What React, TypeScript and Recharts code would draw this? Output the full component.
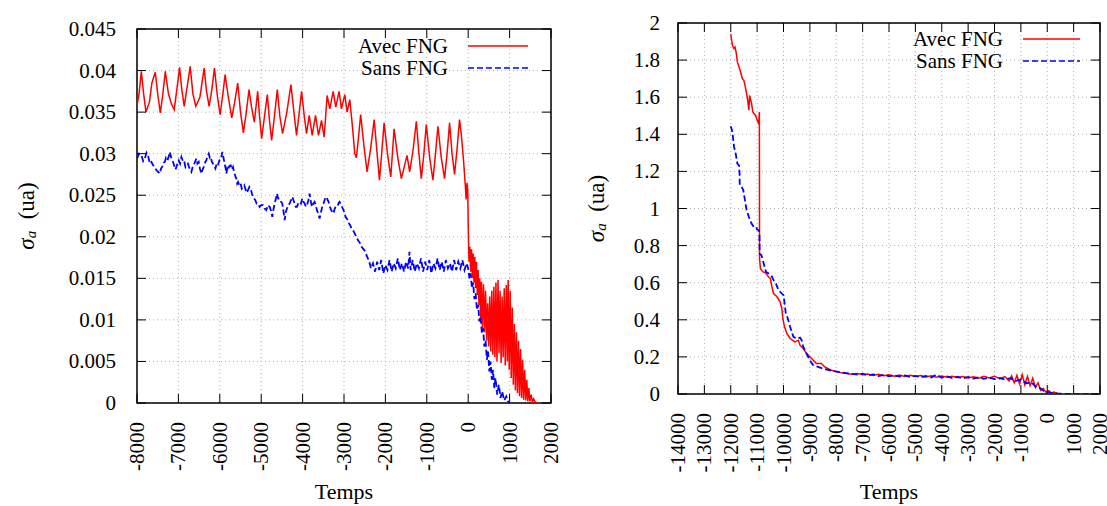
import React from 'react'
import { LineChart, Line, XAxis, YAxis, CartesianGrid, ReferenceArea, Legend } from 'recharts'

type Pt = [number, number]

const FONT = "'Liberation Serif', 'Times New Roman', serif"
const RED = '#ff0000'
const BLUE = '#0000ff'
const BLUE_DASH = '6 3'

const seriesNames = ['Avec FNG', 'Sans FNG']

// axis ticks
const leftXTicks = [-8000, -7000, -6000, -5000, -4000, -3000, -2000, -1000, 0, 1000, 2000]
const leftYTicks = [0, 0.005, 0.01, 0.015, 0.02, 0.025, 0.03, 0.035, 0.04, 0.045]
const rightXTicks = [
  -14000, -13000, -12000, -11000, -10000, -9000, -8000, -7000, -6000, -5000, -4000, -3000, -2000,
  -1000, 0, 1000, 2000,
]
const rightYTicks = [0, 0.2, 0.4, 0.6, 0.8, 1, 1.2, 1.4, 1.6, 1.8, 2]

// left panel, Avec FNG (time, sigma_a)
const avecLeft: Pt[] = [
  [-8000, 0.0358], [-7950, 0.0372], [-7896, 0.0399], [-7840, 0.0372], [-7783, 0.035], [-7700, 0.0362],
  [-7640, 0.0385], [-7558, 0.0398], [-7500, 0.0372], [-7438, 0.0349], [-7380, 0.037], [-7317, 0.0399],
  [-7240, 0.0372], [-7170, 0.036], [-7101, 0.0353], [-7030, 0.038], [-6972, 0.0404], [-6920, 0.0378],
  [-6860, 0.0357], [-6790, 0.038], [-6715, 0.0405], [-6650, 0.0372], [-6579, 0.0357], [-6480, 0.0368],
  [-6378, 0.0403], [-6320, 0.0375], [-6258, 0.0357], [-6190, 0.0378], [-6129, 0.0403], [-6060, 0.037],
  [-5993, 0.0347], [-5930, 0.037], [-5872, 0.0395], [-5800, 0.037], [-5711, 0.0343], [-5640, 0.0362],
  [-5567, 0.0385], [-5500, 0.035], [-5430, 0.0325], [-5360, 0.035], [-5294, 0.0377], [-5230, 0.0355],
  [-5166, 0.0338], [-5085, 0.0375], [-5040, 0.0345], [-4989, 0.0318], [-4920, 0.0345], [-4852, 0.0371],
  [-4800, 0.034], [-4748, 0.0316], [-4680, 0.0345], [-4611, 0.0377], [-4550, 0.0345], [-4483, 0.0324],
  [-4380, 0.035], [-4282, 0.0383], [-4210, 0.035], [-4146, 0.0322], [-4080, 0.035], [-4025, 0.0375],
  [-3960, 0.0345], [-3905, 0.0324], [-3840, 0.0346], [-3768, 0.0322], [-3688, 0.0346], [-3616, 0.0322],
  [-3543, 0.034], [-3479, 0.032], [-3407, 0.037], [-3343, 0.0354], [-3262, 0.0375], [-3198, 0.0356],
  [-3118, 0.0375], [-3062, 0.0354], [-2981, 0.0371], [-2925, 0.035], [-2861, 0.0365], [-2800, 0.0335],
  [-2740, 0.03], [-2700, 0.0295], [-2650, 0.032], [-2597, 0.0347], [-2520, 0.031], [-2443, 0.0278],
  [-2360, 0.0305], [-2271, 0.0341], [-2200, 0.03], [-2143, 0.0268], [-2090, 0.03], [-2031, 0.0337],
  [-1950, 0.03], [-1870, 0.0272], [-1790, 0.033], [-1700, 0.0295], [-1614, 0.027], [-1540, 0.0285],
  [-1478, 0.0298], [-1414, 0.0278], [-1330, 0.0305], [-1253, 0.0339], [-1190, 0.03], [-1133, 0.027],
  [-1070, 0.03], [-1012, 0.0335], [-930, 0.0295], [-852, 0.0268], [-790, 0.03], [-731, 0.0333],
  [-650, 0.0295], [-571, 0.027], [-510, 0.03], [-450, 0.0337], [-390, 0.03], [-330, 0.0275],
  [-270, 0.0305], [-209, 0.0341], [-160, 0.032], [-110, 0.029], [-70, 0.0262], [-50, 0.0245],
  [-30, 0.0265], [-10, 0.0255], [0, 0.0215], [10, 0.019], [20, 0.017], [40, 0.0188], [60, 0.0158],
  [80, 0.0185], [100, 0.015], [120, 0.018], [140, 0.0145], [160, 0.0176], [180, 0.0138], [200, 0.017],
  [220, 0.013], [240, 0.016], [260, 0.0118], [280, 0.015], [300, 0.01], [320, 0.0146], [345, 0.009],
  [370, 0.0143], [395, 0.0085], [420, 0.0135], [445, 0.0075], [470, 0.012], [495, 0.0068], [520, 0.0128],
  [545, 0.0062], [570, 0.0135], [595, 0.0058], [620, 0.014], [645, 0.0055], [670, 0.0145], [695, 0.005],
  [720, 0.0148], [745, 0.006], [770, 0.0135], [795, 0.0048], [820, 0.0128], [845, 0.0055], [870, 0.0138],
  [895, 0.0045], [920, 0.0142], [945, 0.005], [965, 0.0148], [990, 0.004], [1015, 0.0135], [1040, 0.003],
  [1065, 0.0115], [1090, 0.0022], [1115, 0.0095], [1140, 0.0015], [1165, 0.0085], [1190, 0.0012],
  [1215, 0.0075], [1240, 0.0008], [1265, 0.0065], [1290, 0.0006], [1315, 0.0052], [1340, 0.0004],
  [1365, 0.004], [1390, 0.0003], [1415, 0.0028], [1440, 0.0002], [1465, 0.0018], [1490, 0.0002],
  [1520, 0.001], [1550, 0.0001], [1580, 0.0005], [1620, 0.0001], [1700, 0],
]

// left panel, Sans FNG
const sansLeft: Pt[] = [
  [-8000, 0.0294], [-7950, 0.03], [-7892, 0.0298], [-7850, 0.0291], [-7812, 0.0294], [-7770, 0.0301],
  [-7731, 0.0297], [-7690, 0.0288], [-7651, 0.029], [-7610, 0.0286], [-7570, 0.0284], [-7530, 0.028],
  [-7490, 0.0278], [-7450, 0.0276], [-7420, 0.0282], [-7394, 0.0284], [-7360, 0.0289], [-7329, 0.029],
  [-7300, 0.0295], [-7265, 0.0292], [-7230, 0.0297], [-7209, 0.0302], [-7168, 0.0294], [-7130, 0.029],
  [-7104, 0.0286], [-7070, 0.0281], [-7048, 0.0284], [-7020, 0.0289], [-6992, 0.0292], [-6960, 0.0288],
  [-6927, 0.0296], [-6890, 0.0291], [-6863, 0.0292], [-6830, 0.0284], [-6807, 0.0286], [-6770, 0.0288],
  [-6742, 0.0284], [-6710, 0.028], [-6686, 0.0278], [-6660, 0.0283], [-6630, 0.0286], [-6600, 0.029],
  [-6565, 0.0294], [-6540, 0.0288], [-6509, 0.029], [-6480, 0.0282], [-6445, 0.0276], [-6420, 0.028],
  [-6389, 0.0284], [-6350, 0.029], [-6324, 0.0292], [-6300, 0.0297], [-6268, 0.03], [-6240, 0.0295],
  [-6220, 0.0296], [-6190, 0.029], [-6164, 0.0288], [-6130, 0.0284], [-6107, 0.0282], [-6075, 0.0288],
  [-6043, 0.0286], [-6010, 0.0292], [-5979, 0.0294], [-5955, 0.0298], [-5938, 0.0302], [-5915, 0.0296],
  [-5898, 0.0292], [-5875, 0.0286], [-5858, 0.0282], [-5842, 0.0276], [-5820, 0.0282], [-5802, 0.028],
  [-5770, 0.0285], [-5737, 0.0286], [-5710, 0.0281], [-5681, 0.0284], [-5660, 0.0279], [-5641, 0.0276],
  [-5620, 0.0272], [-5601, 0.027], [-5580, 0.0264], [-5560, 0.0266], [-5530, 0.0262], [-5496, 0.0264],
  [-5470, 0.0258], [-5440, 0.026], [-5410, 0.0262], [-5384, 0.0258], [-5350, 0.0253], [-5319, 0.0256],
  [-5285, 0.026], [-5255, 0.0258], [-5225, 0.0252], [-5199, 0.0248], [-5170, 0.0246], [-5142, 0.0244],
  [-5110, 0.024], [-5078, 0.024], [-5038, 0.0236], [-5000, 0.0238], [-4957, 0.0238], [-4920, 0.0234],
  [-4877, 0.0232], [-4840, 0.0238], [-4796, 0.0236], [-4760, 0.0231], [-4732, 0.0224], [-4700, 0.0234],
  [-4675, 0.024], [-4645, 0.0246], [-4619, 0.0252], [-4590, 0.0246], [-4555, 0.0246], [-4520, 0.0242],
  [-4490, 0.024], [-4460, 0.023], [-4434, 0.022], [-4405, 0.023], [-4378, 0.0234], [-4345, 0.0238],
  [-4314, 0.024], [-4280, 0.0244], [-4249, 0.0248], [-4220, 0.0244], [-4193, 0.024], [-4165, 0.0236],
  [-4137, 0.0236], [-4105, 0.024], [-4072, 0.0242], [-4040, 0.024], [-4008, 0.0246], [-3980, 0.0242],
  [-3952, 0.024], [-3920, 0.0236], [-3895, 0.0238], [-3860, 0.0244], [-3831, 0.0252], [-3800, 0.0242],
  [-3775, 0.0236], [-3740, 0.024], [-3710, 0.0242], [-3680, 0.0238], [-3654, 0.0232], [-3620, 0.0228],
  [-3590, 0.0222], [-3555, 0.023], [-3525, 0.0236], [-3495, 0.024], [-3469, 0.0244], [-3450, 0.0247],
  [-3429, 0.0248], [-3400, 0.0245], [-3373, 0.0242], [-3340, 0.0236], [-3309, 0.0232], [-3280, 0.023],
  [-3252, 0.0228], [-3230, 0.0233], [-3204, 0.0236], [-3175, 0.0238], [-3148, 0.0238], [-3125, 0.0241],
  [-3107, 0.0242], [-3085, 0.024], [-3067, 0.0238], [-3040, 0.0235], [-3011, 0.0232], [-2985, 0.0228],
  [-2963, 0.0224], [-2935, 0.0222], [-2906, 0.022], [-2880, 0.0216], [-2850, 0.0214], [-2820, 0.021],
  [-2786, 0.0208], [-2750, 0.0205], [-2721, 0.0202], [-2690, 0.0199], [-2665, 0.0196], [-2635, 0.0194],
  [-2609, 0.0192], [-2575, 0.0188], [-2545, 0.0186], [-2510, 0.0184], [-2480, 0.0182], [-2450, 0.0177],
  [-2424, 0.0174], [-2400, 0.0172], [-2350, 0.0162], [-2300, 0.0168], [-2250, 0.0158], [-2200, 0.017],
  [-2150, 0.016], [-2100, 0.0172], [-2050, 0.0156], [-2000, 0.0166], [-1950, 0.016], [-1900, 0.0172],
  [-1850, 0.0158], [-1800, 0.0168], [-1750, 0.0162], [-1700, 0.0174], [-1650, 0.016], [-1600, 0.0168],
  [-1550, 0.0158], [-1500, 0.017], [-1450, 0.0162], [-1418, 0.0182], [-1390, 0.016], [-1340, 0.0172],
  [-1290, 0.0158], [-1240, 0.0168], [-1190, 0.0162], [-1140, 0.0174], [-1090, 0.0158], [-1040, 0.017],
  [-990, 0.016], [-940, 0.0172], [-890, 0.0156], [-840, 0.0168], [-790, 0.0162], [-740, 0.0174],
  [-690, 0.016], [-640, 0.017], [-590, 0.0158], [-540, 0.0172], [-490, 0.0162], [-440, 0.0168],
  [-390, 0.0158], [-340, 0.0172], [-290, 0.016], [-240, 0.017], [-190, 0.0162], [-140, 0.0172],
  [-90, 0.016], [-40, 0.0168], [0, 0.0162], [30, 0.015], [60, 0.0156], [90, 0.0138], [120, 0.0145],
  [150, 0.0125], [180, 0.0132], [210, 0.0112], [240, 0.0118], [270, 0.0098], [300, 0.0104], [330, 0.0084],
  [360, 0.009], [390, 0.0068], [420, 0.0075], [450, 0.0052], [480, 0.0062], [510, 0.0038], [540, 0.005],
  [570, 0.0028], [600, 0.004], [630, 0.0018], [660, 0.003], [700, 0.001], [740, 0.0022], [780, 0.0006],
  [820, 0.0014], [870, 0.0003], [920, 0.0008], [970, 0.0001], [1000, 0],
]

// right panel, Avec FNG
const avecRight: Pt[] = [
  [-12000, 1.94], [-11937, 1.88], [-11875, 1.862], [-11837, 1.87], [-11787, 1.835], [-11750, 1.79],
  [-11687, 1.764], [-11625, 1.736], [-11562, 1.7], [-11500, 1.69], [-11462, 1.665], [-11400, 1.62],
  [-11350, 1.575], [-11312, 1.53], [-11287, 1.61], [-11250, 1.59], [-11212, 1.566], [-11162, 1.52],
  [-11125, 1.512], [-11062, 1.503], [-11000, 1.476], [-10937, 1.458], [-10915, 1.52], [-10908, 0.73],
  [-10875, 0.676], [-10787, 0.659], [-10687, 0.653], [-10562, 0.631], [-10500, 0.623], [-10437, 0.577],
  [-10375, 0.541], [-10250, 0.524], [-10125, 0.496], [-10062, 0.461], [-10025, 0.407], [-9962, 0.362],
  [-9875, 0.326], [-9750, 0.299], [-9562, 0.281], [-9437, 0.29], [-9375, 0.263], [-9250, 0.245],
  [-9125, 0.218], [-8937, 0.191], [-8750, 0.164], [-8562, 0.164], [-8437, 0.146], [-8187, 0.128],
  [-7812, 0.114], [-7437, 0.107], [-7200, 0.11], [-7000, 0.104], [-6800, 0.108], [-6600, 0.1],
  [-6400, 0.106], [-6200, 0.098], [-6000, 0.104], [-5800, 0.096], [-5600, 0.102], [-5400, 0.095],
  [-5200, 0.101], [-5000, 0.094], [-4800, 0.1], [-4600, 0.092], [-4400, 0.098], [-4200, 0.091],
  [-4000, 0.097], [-3800, 0.09], [-3600, 0.096], [-3400, 0.088], [-3200, 0.094], [-3000, 0.087],
  [-2800, 0.093], [-2600, 0.085], [-2400, 0.095], [-2200, 0.086], [-2000, 0.096], [-1800, 0.082],
  [-1600, 0.094], [-1450, 0.07], [-1350, 0.098], [-1250, 0.06], [-1150, 0.1], [-1050, 0.055],
  [-950, 0.105], [-850, 0.05], [-750, 0.095], [-650, 0.045], [-550, 0.085], [-450, 0.035], [-350, 0.06],
  [-250, 0.02], [-150, 0.03], [-50, 0.01], [50, 0.018], [150, 0.006], [250, 0.01], [400, 0.003],
  [600, 0.002], [800, 0.001], [1000, 0], [2000, 0],
]

// right panel, Sans FNG
const sansRight: Pt[] = [
  [-12000, 1.444], [-11937, 1.413], [-11875, 1.332], [-11812, 1.296], [-11750, 1.242], [-11687, 1.233],
  [-11665, 1.188], [-11660, 1.126], [-11587, 1.117], [-11525, 1.099], [-11462, 1.045], [-11400, 0.991],
  [-11312, 0.955], [-11212, 0.919], [-11125, 0.901], [-11037, 0.901], [-11000, 0.886], [-10937, 0.883],
  [-10912, 0.865], [-10905, 0.757], [-10837, 0.748], [-10750, 0.703], [-10662, 0.658], [-10562, 0.649],
  [-10462, 0.64], [-10375, 0.613], [-10287, 0.595], [-10187, 0.559], [-10062, 0.541], [-10000, 0.533],
  [-9975, 0.506], [-9912, 0.434], [-9837, 0.407], [-9750, 0.362], [-9625, 0.308], [-9500, 0.299],
  [-9375, 0.304], [-9312, 0.29], [-9250, 0.254], [-9125, 0.218], [-9000, 0.182], [-8875, 0.155],
  [-8687, 0.146], [-8500, 0.137], [-8187, 0.125], [-7687, 0.114], [-7400, 0.108], [-7200, 0.104],
  [-7000, 0.11], [-6800, 0.1], [-6600, 0.106], [-6400, 0.097], [-6200, 0.103], [-6000, 0.095],
  [-5800, 0.101], [-5600, 0.094], [-5400, 0.1], [-5200, 0.092], [-5000, 0.098], [-4800, 0.09],
  [-4600, 0.097], [-4400, 0.089], [-4200, 0.104], [-4000, 0.088], [-3800, 0.095], [-3600, 0.086],
  [-3400, 0.093], [-3200, 0.084], [-3000, 0.092], [-2800, 0.083], [-2600, 0.09], [-2400, 0.082],
  [-2200, 0.088], [-2000, 0.08], [-1800, 0.086], [-1600, 0.078], [-1400, 0.085], [-1200, 0.07],
  [-1000, 0.078], [-800, 0.058], [-600, 0.062], [-400, 0.035], [-250, 0.03], [-100, 0.012], [50, 0.01],
  [200, 0.004], [400, 0.002], [700, 0.001], [1000, 0], [2000, 0],
]

const toRows = (pts: Pt[]) => pts.map(([t, v]) => ({ t, v }))

const CHART_H = 506
const TICK_LEN = 9
const FS = 21
const textStyle = { fontFamily: FONT }

interface PanelProps {
  width: number
  plotLeft: number
  plotRight: number
  plotTop: number
  plotBottom: number
  xDomain: [number, number]
  yDomain: [number, number]
  xTicks: number[]
  yTicks: number[]
  avec: Pt[]
  sans: Pt[]
  yTickGap: number
  xTickGap: number
  yLabelX: number
  legendTop: number
  legendTextRight: number
  legendLineEnd: number
  legendRow: number
}

function Panel(p: PanelProps) {
  const plotW = p.plotRight - p.plotLeft
  const plotH = p.plotBottom - p.plotTop

  const xTick = (props: any) => {
    const { x, y, payload } = props
    const base = y - p.xTickGap
    return (
      <g>
        <line x1={x} x2={x} y1={base} y2={base - TICK_LEN} stroke="#000" />
        <line x1={x} x2={x} y1={base - plotH} y2={base - plotH + TICK_LEN} stroke="#000" />
        <text
          x={x}
          y={y}
          transform={`rotate(-90 ${x} ${y})`}
          textAnchor="end"
          dominantBaseline="central"
          style={textStyle}
          fontSize={FS}
          fill="#000"
        >
          {payload.value}
        </text>
      </g>
    )
  }

  const yTick = (props: any) => {
    const { x, y, payload } = props
    const edge = x + p.yTickGap
    return (
      <g>
        <line x1={edge} x2={edge + TICK_LEN} y1={y} y2={y} stroke="#000" />
        <line x1={edge + plotW} x2={edge + plotW - TICK_LEN} y1={y} y2={y} stroke="#000" />
        <text x={x} y={y} textAnchor="end" dominantBaseline="central" style={textStyle} fontSize={FS} fill="#000">
          {payload.value}
        </text>
      </g>
    )
  }

  const yLabel = () => {
    const cx = p.yLabelX
    const cy = (p.plotTop + p.plotBottom) / 2
    return (
      <text
        x={cx}
        y={cy}
        transform={`rotate(-90 ${cx} ${cy})`}
        textAnchor="middle"
        dominantBaseline="central"
        style={textStyle}
        fontSize={23}
        fill="#000"
      >
        <tspan fontStyle="italic">σ</tspan>
        <tspan fontStyle="italic" fontSize={15} dy={5}>a</tspan>
        <tspan dy={-5}>{'\u00a0\u00a0(ua)'}</tspan>
      </text>
    )
  }

  const xLabel = () => (
    <text
      x={(p.plotLeft + p.plotRight) / 2}
      y={CHART_H - 7}
      textAnchor="middle"
      style={textStyle}
      fontSize={22}
      fill="#000"
    >
      Temps
    </text>
  )

  const legendContent = () => (
    <div style={{ fontFamily: FONT, fontSize: 21, color: '#000' }}>
      {seriesNames.map((name, i) => (
        <div key={name} style={{ display: 'flex', alignItems: 'center', height: p.legendRow }}>
          <span style={{ width: 120, textAlign: 'right', lineHeight: `${p.legendRow}px` }}>{name}</span>
          <svg width={p.legendLineEnd - p.legendTextRight} height={10}>
            <line
              x1={20}
              x2={p.legendLineEnd - p.legendTextRight}
              y1={5}
              y2={5}
              stroke={i === 0 ? RED : BLUE}
              strokeWidth={1.5}
              strokeDasharray={i === 0 ? undefined : BLUE_DASH}
            />
          </svg>
        </div>
      ))}
    </div>
  )

  return (
    <LineChart
      width={p.width}
      height={CHART_H}
      margin={{ top: p.plotTop, right: p.width - p.plotRight, bottom: 0, left: 0 }}
      style={textStyle}
    >
      <CartesianGrid stroke="#b0b0b0" strokeDasharray="1 3" />
      <XAxis
        dataKey="t"
        type="number"
        domain={p.xDomain}
        ticks={p.xTicks}
        interval={0}
        allowDataOverflow
        height={CHART_H - p.plotBottom}
        axisLine={false}
        tickLine={false}
        tickSize={0}
        tickMargin={p.xTickGap}
        tick={xTick}
        label={xLabel}
      />
      <YAxis
        type="number"
        domain={p.yDomain}
        ticks={p.yTicks}
        interval={0}
        allowDataOverflow
        width={p.plotLeft}
        axisLine={false}
        tickLine={false}
        tickSize={0}
        tickMargin={p.yTickGap}
        tick={yTick}
        label={yLabel}
      />
      <Legend
        layout="vertical"
        align="center"
        verticalAlign="middle"
        wrapperStyle={{ top: p.legendTop, left: p.legendTextRight - 120, width: 220, height: p.legendRow * 2 }}
        content={legendContent}
      />
      <Line
        data={toRows(p.avec)}
        dataKey="v"
        name={seriesNames[0]}
        type="linear"
        stroke={RED}
        strokeWidth={1.5}
        dot={false}
        activeDot={false}
        isAnimationActive={false}
      />
      <Line
        data={toRows(p.sans)}
        dataKey="v"
        name={seriesNames[1]}
        type="linear"
        stroke={BLUE}
        strokeWidth={1.8}
        strokeDasharray={BLUE_DASH}
        dot={false}
        activeDot={false}
        isAnimationActive={false}
      />
      <ReferenceArea
        x1={p.xDomain[0]}
        x2={p.xDomain[1]}
        y1={p.yDomain[0]}
        y2={p.yDomain[1]}
        fill="none"
        stroke="#000"
        strokeWidth={1.5}
      />
    </LineChart>
  )
}

export default function App() {
  return (
    <div style={{ position: 'absolute', left: 0, top: 0, width: 1107, height: 506, background: '#fff' }}>
      <div style={{ position: 'absolute', left: 0, top: 0 }}>
        <Panel
          width={566}
          plotLeft={137}
          plotRight={551}
          plotTop={29}
          plotBottom={403}
          xDomain={[-8000, 2000]}
          yDomain={[0, 0.045]}
          xTicks={leftXTicks}
          yTicks={leftYTicks}
          avec={avecLeft}
          sans={sansLeft}
          yTickGap={21}
          xTickGap={19}
          yLabelX={26}
          legendTop={35}
          legendTextRight={448}
          legendLineEnd={528}
          legendRow={22}
        />
      </div>
      <div style={{ position: 'absolute', left: 560, top: 0 }}>
        <Panel
          width={547}
          plotLeft={118}
          plotRight={540}
          plotTop={23}
          plotBottom={394}
          xDomain={[-14000, 2000]}
          yDomain={[0, 2]}
          xTicks={rightXTicks}
          yTicks={rightYTicks}
          avec={avecRight}
          sans={sansRight}
          yTickGap={18}
          xTickGap={19}
          yLabelX={36}
          legendTop={28}
          legendTextRight={443}
          legendLineEnd={520}
          legendRow={22}
        />
      </div>
    </div>
  )
}
